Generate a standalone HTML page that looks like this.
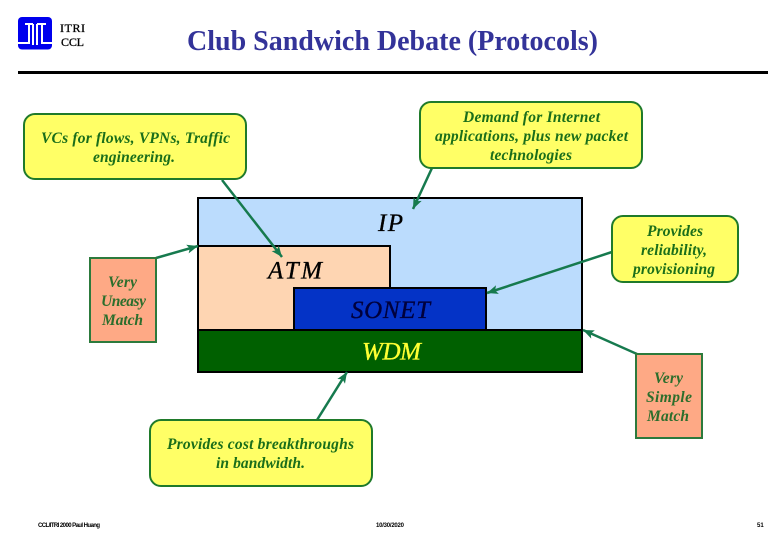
<!DOCTYPE html>
<html><head><meta charset="utf-8"><style>
html,body{margin:0;padding:0;background:#fff}
svg{display:block}
text{font-family:"Liberation Serif",serif}
.c{font-size:15.500px;font-weight:bold;font-style:italic;fill:#1a6e1a;text-anchor:middle}
.m{font-size:15.500px;font-weight:bold;font-style:italic;fill:#2c6e2c;text-anchor:middle}
.l{font-size:25px;font-style:italic;text-anchor:middle;stroke-width:.35}
.f{font-family:"Liberation Sans",sans-serif;font-size:6px;font-weight:bold;fill:#000}
</style></head><body>
<svg width="780" height="540" viewBox="0 0 780 540" xmlns="http://www.w3.org/2000/svg">
<defs><marker id="a" markerUnits="userSpaceOnUse" markerWidth="12" markerHeight="10" refX="11" refY="5" orient="auto"><path d="M0 0.500L11 5L0 9.500L2.500 5Z" fill="#167a4e"/></marker></defs>
<rect width="780" height="540" fill="#fff"/>
<!-- logo -->
<rect x="18" y="17" width="34" height="32.500" rx="4" fill="#0000ee"/>
<path d="M25 24H33M37 24H46M18 43H29V24M33 24V45M37 24V45M42 24V43H52" fill="none" stroke="#fff" stroke-width="2"/>
<text x="60" y="32" font-size="12" textLength="25" fill="#000" stroke="#000" stroke-width=".3">ITRI</text>
<text x="61" y="46" font-size="12" textLength="23" fill="#000" stroke="#000" stroke-width=".3">CCL</text>
<text x="392.500" y="50" font-size="28" font-weight="bold" fill="#333399" text-anchor="middle" textLength="411">Club Sandwich Debate (Protocols)</text>
<rect x="18" y="71" width="750" height="3" fill="#000"/>
<!-- stack -->
<rect x="198" y="198" width="384" height="132" fill="#bbdcfd" stroke="#000" stroke-width="2"/>
<rect x="198" y="246" width="192" height="84" fill="#fed5b2" stroke="#000" stroke-width="2"/>
<rect x="294" y="288" width="192" height="42" fill="#0433c6" stroke="#000" stroke-width="2"/>
<rect x="198" y="330" width="384" height="42" fill="#006000" stroke="#000" stroke-width="2"/>
<text class="l" x="390.500" y="231" fill="#000" stroke="#000" textLength="25">IP</text>
<text class="l" x="295" y="278.500" fill="#000" stroke="#000" textLength="54">ATM</text>
<text class="l" x="390.500" y="318" fill="#00003c" stroke="#00003c" textLength="79">SONET</text>
<text class="l" x="391.500" y="359.500" fill="#ffff33" stroke="#ffff33" textLength="59">WDM</text>
<!-- connectors -->
<g stroke="#167a4e" stroke-width="2.500" fill="none">
<line x1="222" y1="180" x2="282" y2="257" marker-end="url(#a)"/>
<line x1="432" y1="168" x2="413" y2="209" marker-end="url(#a)"/>
<line x1="612" y1="252" x2="487" y2="293" marker-end="url(#a)"/>
<line x1="156" y1="258" x2="198" y2="246" marker-end="url(#a)"/>
<line x1="637" y1="354" x2="583" y2="330" marker-end="url(#a)"/>
<line x1="317" y1="420" x2="347" y2="372" marker-end="url(#a)"/>
</g>
<!-- callouts -->
<g fill="#ffff66" stroke="#1f7a2a" stroke-width="2">
<rect x="24" y="114" width="222" height="65" rx="11"/>
<rect x="420" y="102" width="222" height="66" rx="11"/>
<rect x="612" y="216" width="126" height="66" rx="11"/>
<rect x="150" y="420" width="222" height="66" rx="11"/>
</g>
<g fill="#fea985" stroke="#2c7a3c" stroke-width="2">
<rect x="90" y="258" width="66" height="84"/>
<rect x="636" y="354" width="66" height="84"/>
</g>
<text class="c" x="135.500" y="143" textLength="189">VCs for flows, VPNs, Traffic</text>
<text class="c" x="134" y="162" textLength="82">engineering.</text>
<text class="c" x="531.500" y="122" textLength="137">Demand for Internet</text>
<text class="c" x="531.500" y="141" textLength="193">applications, plus new packet</text>
<text class="c" x="531" y="160" textLength="82">technologies</text>
<text class="c" x="675" y="236" textLength="56">Provides</text>
<text class="c" x="674" y="255" textLength="66">reliability,</text>
<text class="c" x="674" y="274" textLength="82">provisioning</text>
<text class="c" x="260.500" y="449" textLength="187">Provides cost breakthroughs</text>
<text class="c" x="260.500" y="468" textLength="89">in bandwidth.</text>
<text class="m" x="122.500" y="287" textLength="29">Very</text>
<text class="m" x="123.500" y="306" textLength="45">Uneasy</text>
<text class="m" x="122.500" y="325" textLength="41">Match</text>
<text class="m" x="668.500" y="383" textLength="29">Very</text>
<text class="m" x="669" y="402" textLength="46">Simple</text>
<text class="m" x="668" y="421" textLength="42">Match</text>
<!-- footer -->
<text class="f" x="38" y="527" textLength="62">CCL/ITRI 2000  Paul Huang</text>
<text class="f" x="376" y="527" textLength="28">10/30/2020</text>
<text class="f" x="757" y="527">51</text>
</svg>
</body></html>
